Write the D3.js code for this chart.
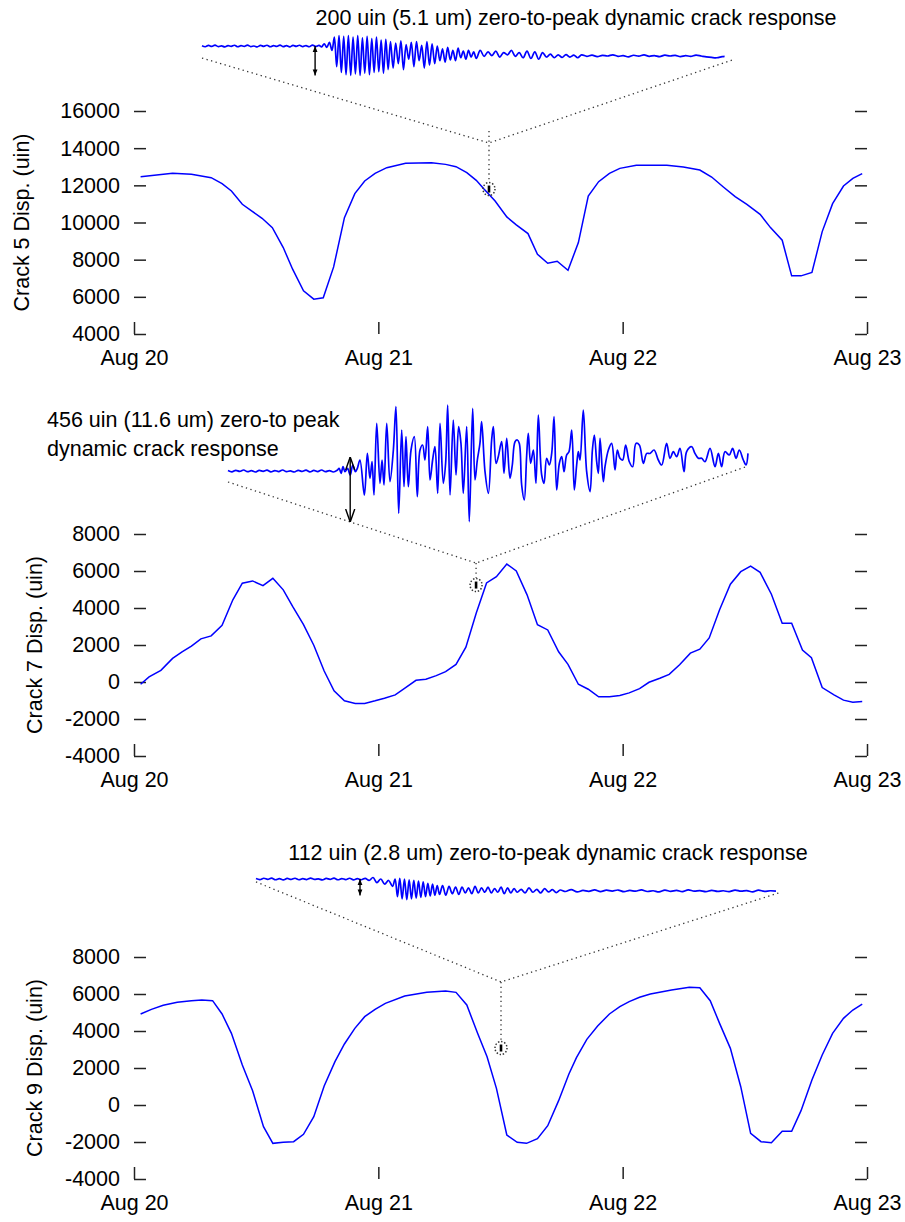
<!DOCTYPE html>
<html>
<head>
<meta charset="utf-8">
<title>Crack displacement</title>
<style>
  body { margin: 0; background: #fff; }
  svg text { font-family: "Liberation Sans", Arial, sans-serif; font-size: 21.5px; fill: #000; }
</style>
</head>
<body>
<svg width="905" height="1222"></svg>
<script src="https://d3js.org/d3.v7.min.js"></script>
<script>

// ---- data ----
const dayHours = [0, 24, 48, 72]
const dayLabels = ["Aug 20", "Aug 21", "Aug 22", "Aug 23"]
const ticksCrack5 = [4000, 6000, 8000, 10000, 12000, 14000, 16000]
const ticksCrack79 = [-4000, -2000, 0, 2000, 4000, 6000, 8000]

// hours after Aug 20 00:00, displacement in uin
const crack5Hours = [0.65,3.79,5.64,7.58,8.65,9.57,10.64,11.65,12.58,13.59,14.66,15.58,16.65,17.66,18.59,19.61,20.67,21.69,22.66,23.68,24.83,26.68,29.22,30.61,31.63,32.69,33.62,34.4,35.47,36.62,37.55,38.7,39.63,40.64,41.57,42.63,43.65,44.62,45.64,46.7,47.72,49.34,52.34,53.96,55.58,56.74,57.89,59.05,60.2,61.5,62.52,63.67,64.6,65.52,66.59,67.6,68.62,69.69,70.61,71.53]
const crack5Disp = [12466,12645,12591,12412,12090,11696,10979,10585,10227,9725,8651,7487,6322,5875,5946,7612,10263,11552,12233,12645,12949,13182,13218,13128,13003,12681,12269,11785,11158,10299,9869,9403,8293,7809,7917,7433,8919,11427,12197,12645,12913,13075,13075,12985,12824,12448,11910,11391,10979,10442,9725,9045,7128,7128,7308,9510,11015,11964,12376,12627]

const crack7Hours = [0.65,1.48,2.64,3.79,4.72,5.64,6.57,7.58,8.65,9.71,10.64,11.65,12.67,13.64,14.66,15.58,16.65,17.66,18.68,19.65,20.67,21.73,22.66,23.68,24.6,25.66,26.68,27.7,28.67,29.69,30.61,31.63,32.6,33.62,34.63,35.6,36.62,37.55,38.61,39.63,40.64,41.71,42.63,43.65,44.62,45.64,46.7,47.72,48.64,49.66,50.59,51.65,52.57,53.59,54.65,55.58,56.5,57.52,58.58,59.6,60.57,61.5,62.61,63.67,64.6,65.66,66.54,67.6,68.76,69.69,70.61,71.53]
const crack7Disp = [-122,272,630,1274,1632,1937,2330,2492,3064,4443,5338,5463,5212,5606,4980,4085,3100,1990,594,-480,-1017,-1160,-1160,-1017,-874,-695,-301,93,147,344,558,952,1883,3727,5356,5696,6376,6000,4711,3100,2814,1632,952,-122,-391,-803,-803,-731,-588,-355,-14,200,415,934,1560,1776,2384,3906,5284,5964,6269,5928,4747,3172,3172,1722,1310,-301,-695,-981,-1088,-1053]

const crack9Hours = [0.65,1.71,2.87,4.25,5.64,6.66,7.72,8.65,9.57,10.64,11.65,12.72,13.64,14.66,15.68,16.65,17.66,18.68,19.74,20.67,21.69,22.66,23.68,24.69,26.59,28.76,30.61,31.63,32.69,33.75,34.68,35.6,36.62,37.64,38.56,39.63,40.64,41.71,42.72,43.46,44.48,45.54,46.7,47.72,48.64,49.66,50.72,52.8,54.55,55.58,56.6,57.52,58.58,59.6,60.57,61.59,62.61,63.67,64.6,65.52,66.59,67.6,68.62,69.69,70.61,71.53]
const crack9Disp = [4919,5171,5387,5550,5640,5676,5640,4919,3874,2162,774,-1172,-2073,-2019,-1983,-1586,-631,1026,2342,3297,4144,4775,5171,5495,5892,6090,6162,6090,5405,3874,2612,900,-1622,-2019,-2073,-1821,-1118,234,1675,2558,3549,4270,4919,5315,5586,5820,6000,6216,6360,6342,5640,4414,3063,990,-1532,-1983,-2037,-1424,-1424,-307,1351,2702,3874,4685,5135,5459]

// dynamic records shown in the insets: [seconds, uin relative to pre-event level]
const crack5Wave = [[0,2],[0.25,-5],[0.5,4],[0.75,-3],[1,6],[1.25,-4],[1.5,1],[1.75,-6],[2,3],[2.25,-2],[2.5,5],[2.75,-5],[3,2],[3.25,-3],[3.5,6],[3.75,-4],[4,0],[4.25,-6],[4.5,4],[4.75,-2],[5,5],[5.25,-5],[5.5,3],[5.75,-3],[6,6],[6.25,-4],[6.5,2],[6.75,-6],[7,4],[7.25,-2],[7.5,5],[7.75,-4],[8,3],[8.25,-5],[8.5,6],[8.75,-3],[9,4],[9.2,-6],
  [9.4,15],[9.6,-10],[9.8,25],[10,-30],
  [10.18,60],[10.36,-140],[10.54,70],[10.72,-180],[10.9,65],[11.08,-195],[11.26,70],[11.44,-200],[11.62,60],[11.8,-190],[11.98,70],[12.16,-200],[12.34,55],[12.52,-185],[12.7,65],[12.88,-195],[13.06,50],[13.24,-180],[13.42,60],[13.6,-175],[13.78,40],[13.96,-185],[14.14,45],[14.32,-160],[14.5,30],
  [14.7,-150],[14.9,20],[15.1,-120],[15.3,35],[15.5,-160],[15.7,10],[15.9,-90],[16.1,25],[16.3,-140],[16.5,30],[16.7,-100],[16.9,5],[17.1,-150],[17.3,30],[17.5,-130],[17.7,15],[17.9,-120],[18.1,0],[18.3,-100],
  [18.5,-20],[18.7,-110],[18.9,-10],[19.1,-95],[19.3,-30],[19.5,-100],[19.7,-15],[19.9,-80],[20.1,-35],[20.3,-90],[20.5,-30],[20.7,-75],[20.9,-40],[21.1,-85],
  [21.4,-30],[21.7,-70],[22,-40],[22.3,-65],[22.6,-35],[22.9,-75],[23.2,-45],[23.5,-60],[23.8,-30],[24.1,-70],[24.4,-45],[24.7,-80],[25,-35],[25.3,-85],[25.6,-40],[25.9,-90],[26.2,-45],[26.5,-75],
  [26.8,-55],[27.1,-80],[27.4,-60],[27.7,-78],[28,-58],[28.3,-75],[28.6,-62],[28.9,-80],[29.2,-60],
  [29.6,-70],[30,-62],[30.4,-72],[30.8,-64],[31.2,-68],[31.6,-60],[32,-70],[32.4,-66],[32.8,-74],[33.2,-63],[33.6,-69],[34,-61],[34.4,-70],[34.8,-65],[35.2,-72],[35.6,-62],[36,-68],[36.4,-64],[36.8,-72],[37.2,-66],[37.6,-70],[38,-62],[38.4,-68],[38.8,-74],[39.2,-78],[39.6,-80],[40,-72],[40.2,-70]]

const crack7Wave = [[0,3],[0.3,-6],[0.6,5],[0.9,-3],[1.2,7],[1.5,-5],[1.8,2],[2.1,-7],[2.4,4],[2.7,-2],[3,6],[3.3,-6],[3.6,3],[3.9,-4],[4.2,7],[4.5,-5],[4.8,1],[5.1,-7],[5.4,5],[5.7,-3],[6,6],[6.3,-6],[6.6,4],[6.9,-4],[7.2,7],[7.5,-5],[7.8,3],[8.1,-7],[8.4,5],
  [8.55,19],[8.7,-16],[8.85,30],[9,-5],[9.2,19],[9.4,-28],[9.6,42],[9.8,-5],[9.95,19],
  [10.15,77],[10.49,-168],[10.72,124],[10.92,-51],[11.08,65],[11.23,-168],[11.44,333],[11.69,-86],[11.85,77],[12,-98],[12.21,333],[12.46,-75],[12.72,147],[12.92,450],[13.13,-296],[13.36,287],[13.54,-110],[13.69,240],[13.87,-110],[14.08,147],[14.33,240],[14.56,-179],[14.77,147],[14.97,182],[15.15,77],[15.36,310],[15.54,-63],[15.74,77],[15.92,170],[16.13,-156],[16.31,333],[16.56,-86],[16.74,54],[16.9,461],[17.08,-168],[17.33,356],[17.54,-28],[17.74,310],[17.92,193],[18.1,-156],[18.36,310],[18.56,-354],[18.82,438],[19,-63],[19.18,77],[19.38,193],[19.51,345],[19.77,-5],[20.03,-156],[20.28,217],[20.41,310],[20.62,54],[20.79,100],[21.05,205],[21.23,-16],[21.44,228],[21.69,-51],[21.87,42],[22.08,205],[22.26,217],[22.41,193],[22.59,-98],[22.79,-203],[22.97,100],[23.1,263],[23.28,54],[23.49,147],[23.69,-86],[23.87,391],[24.13,-28],[24.31,-86],[24.51,89],[24.72,42],[24.9,123],[25.08,380],[25.28,-133],[25.49,54],[25.67,100],[25.85,-5],[26.05,112],[26.23,135],[26.44,287],[26.64,-133],[26.82,42],[26.95,135],[27.08,77],[27.33,426],[27.59,-5],[27.85,-144],[28.03,147],[28.18,252],[28.36,65],[28.49,-16],[28.62,228],[28.87,-75],[29,30],[29.26,147],[29.51,193],[29.77,7],[29.95,147],[30.15,89],[30.36,77],[30.59,182],[30.87,65],[31.13,30],[31.38,193],[31.64,182],[31.95,54],[32.21,123],[32.46,123],[32.77,147],[33.1,77],[33.36,42],[33.74,193],[34,89],[34.26,135],[34.51,100],[34.77,158],[35.08,-5],[35.28,135],[35.67,170],[35.92,123],[36.18,89],[36.44,89],[36.69,65],[37.08,158],[37.46,30],[37.72,123],[37.97,30],[38.23,135],[38.56,112],[38.82,158],[39.08,89],[39.33,147],[39.64,77],[39.85,42],[40,123]]

const crack9Wave = [[0,3],[0.3,-4],[0.6,5],[0.9,-2],[1.2,6],[1.5,-5],[1.8,2],[2.1,-6],[2.4,4],[2.7,-3],[3,5],[3.3,-5],[3.6,2],[3.9,-4],[4.2,6],[4.5,-3],[4.8,1],[5.1,-6],[5.4,4],[5.7,-2],[6,6],[6.3,-5],[6.6,3],[6.9,-4],[7.2,5],[7.5,-6],[7.8,2],[8.1,-5],[8.4,4],
  [8.7,-10],[9,10],[9.3,-25],[9.6,0],[9.9,-35],[10.2,-10],[10.5,-50],
  [10.7,0],[10.88,-120],[11.06,5],[11.24,-135],[11.42,0],[11.6,-140],[11.78,-5],[11.96,-135],[12.14,-10],[12.32,-130],[12.5,-15],[12.68,-125],[12.86,-20],[13.04,-120],[13.22,-30],[13.4,-115],[13.58,-35],[13.76,-110],[13.94,-45],[14.12,-105],
  [14.35,-45],[14.6,-110],[14.85,-50],[15.1,-100],[15.35,-55],[15.6,-105],[15.85,-55],[16.1,-95],[16.35,-60],[16.6,-100],[16.85,-50],[17.1,-95],[17.35,-60],[17.6,-90],[17.85,-55],[18.1,-95],[18.35,-65],[18.6,-90],[18.85,-55],[19.1,-100],[19.35,-60],[19.6,-95],[19.85,-65],[20.1,-90],[20.4,-70],[20.7,-95],[21,-60],[21.3,-90],[21.6,-70],[21.9,-95],[22.2,-65],[22.5,-88],[22.8,-72],[23.1,-92],[23.4,-75],
  [23.8,-85],[24.25,-72],[24.7,-88],[25.15,-78],[25.6,-84],[26.05,-74],[26.5,-86],[26.95,-76],[27.4,-82],[27.85,-75],[28.3,-86],[28.75,-78],[29.2,-83],[29.65,-74],[30.1,-85],[30.55,-80],[31,-88],[31.45,-76],[31.9,-84],[32.35,-78],[32.8,-86],[33.25,-74],[33.7,-82],[34.15,-79],[34.6,-86],[35.05,-77],[35.5,-84],[35.95,-80],[36.4,-86],[36.85,-75],[37.3,-83],[37.75,-79],[38.2,-88],[38.65,-76],[39.1,-84],[39.55,-80],[40,-82]]

// ---- layout of the three panels ----
const panels = [
  { top: 111, bottom: 334, domain: [4000, 16000], ticks: ticksCrack5, label: "Crack 5 Disp. (uin)", labelX: 21,
    hours: crack5Hours, disp: crack5Disp, markH: 34.87, markV: 11800, apexV: 14280, stemV: 14920,
    inset: { x0: 202, base: 46, k: 6.8, wave: crack5Wave, left: [0, -82], right: [40.8, -95], arrow: [8.7, 0, -200], head: "small" },
    title: ["200 uin (5.1 um) zero-to-peak dynamic crack response"], titleX: 576, titleY: 25, anchor: "middle" },
  { top: 534, bottom: 756, domain: [-4000, 8000], ticks: ticksCrack79, label: "Crack 7 Disp. (uin)", labelX: 34,
    hours: crack7Hours, disp: crack7Disp, markH: 33.6, markV: 5240, apexV: 6430, stemV: 6430,
    inset: { x0: 228, base: 471, k: 7, wave: crack7Wave, left: [0, -77], right: [40, 35], arrow: [9.4, 98, -357], head: "open" },
    title: ["456 uin (11.6 um) zero-to peak", "dynamic crack response"], titleX: 47, titleY: 427, anchor: "start" },
  { top: 957, bottom: 1179, domain: [-4000, 8000], ticks: ticksCrack79, label: "Crack 9 Disp. (uin)", labelX: 34,
    hours: crack9Hours, disp: crack9Disp, markH: 36.05, markV: 3080, apexV: 6650, stemV: 6650,
    inset: { x0: 256, base: 879, k: 6.8, wave: crack9Wave, left: [0, -20], right: [40.2, -95], arrow: [8.0, 0, -112], head: "small" },
    title: ["112 uin (2.8 um) zero-to-peak dynamic crack response"], titleX: 548, titleY: 860, anchor: "middle" }
]

const svg = d3.select("svg")
const x = d3.scaleLinear().domain([0, 72]).range([134, 867])

const defs = svg.append("defs")
defs.append("marker").attr("id", "small")
    .attr("viewBox", "0 -5 10 10").attr("refX", 10).attr("refY", 0)
    .attr("markerUnits", "userSpaceOnUse").attr("markerWidth", 6).attr("markerHeight", 6)
    .attr("orient", "auto-start-reverse")
  .append("path").attr("d", "M0,-4L10,0L0,4Z").attr("fill", "#000")
defs.append("marker").attr("id", "open")
    .attr("viewBox", "0 -5 10 10").attr("refX", 10).attr("refY", 0)
    .attr("markerUnits", "userSpaceOnUse").attr("markerWidth", 13).attr("markerHeight", 13)
    .attr("orient", "auto-start-reverse")
  .append("path").attr("d", "M0,-3.5L10,0L0,3.5").attr("fill", "none").attr("stroke", "#000").attr("stroke-width", 1.1)

panels.forEach(function(p) {
  const y = d3.scaleLinear().domain(p.domain).range([p.bottom, p.top])
  const g = svg.append("g")

  // left ticks with labels, right ticks, bottom date ticks (no axis lines)
  g.append("g")
      .attr("transform", "translate(" + x(0) + ",0)")
      .call(d3.axisLeft(y).tickValues(p.ticks).tickSize(-12).tickPadding(14).tickFormat(d => String(d)))
      .call(a => a.select(".domain").remove())
  g.append("g")
      .attr("transform", "translate(" + x(72) + ",0)")
      .call(d3.axisRight(y).tickValues(p.ticks).tickSize(-12).tickFormat(""))
      .call(a => a.select(".domain").remove())
  g.append("g")
      .attr("transform", "translate(0," + p.bottom + ")")
      .call(d3.axisBottom(x).tickValues(dayHours).tickSize(-12).tickPadding(16).tickFormat((d, i) => dayLabels[i]))
      .call(a => a.select(".domain").remove())
  g.selectAll(".tick line").attr("stroke", "#222").attr("stroke-width", 1.5)

  // y label
  g.append("text")
      .attr("transform", "translate(" + p.labelX + "," + (p.top + p.bottom) / 2 + ") rotate(-90)")
      .attr("text-anchor", "middle")
      .attr("dy", "0.35em")
      .text(p.label)

  // hourly record
  const line = d3.line().x(d => x(d[0])).y(d => y(d[1]))
  g.append("path")
      .datum(d3.zip(p.hours, p.disp))
      .attr("d", line)
      .attr("fill", "none")
      .attr("stroke", "#0000ff")
      .attr("stroke-width", 1.5)

  // inset with the dynamic record
  const ins = p.inset
  const ix = d3.scaleLinear().domain([0, 40]).range([ins.x0, ins.x0 + 520])
  const iy = d3.scaleLinear().domain([-300, 300]).range([ins.base + 300 / ins.k, ins.base - 300 / ins.k])

  const mx = x(p.markH), my = y(p.markV)
  const ax = mx, ay = y(p.apexV)

  // dotted leader lines
  const dotted = g.append("g")
      .attr("fill", "none").attr("stroke", "#333")
      .attr("stroke-width", 1.3).attr("stroke-dasharray", "1.3,3.4")
  dotted.append("path")
      .attr("d", "M" + ix(ins.left[0]) + "," + iy(ins.left[1]) + "L" + ax + "," + ay + "L" + ix(ins.right[0]) + "," + iy(ins.right[1]))
  dotted.append("path")
      .attr("d", "M" + mx + "," + y(p.stemV) + "L" + mx + "," + (my - 7))
  dotted.append("ellipse")
      .attr("cx", mx).attr("cy", my).attr("rx", 6).attr("ry", 6.5)
      .attr("stroke-width", 1.5).attr("stroke-dasharray", "1.4,1.8")
  g.append("line")
      .attr("x1", mx).attr("x2", mx).attr("y1", my - 3.5).attr("y2", my + 3.5)
      .attr("stroke", "#000").attr("stroke-width", 2.6)

  g.append("path")
      .datum(ins.wave)
      .attr("d", d3.line().curve(d3.curveCatmullRom.alpha(0.5)).x(d => ix(d[0])).y(d => iy(d[1])))
      .attr("fill", "none")
      .attr("stroke", "#0000ff")
      .attr("stroke-width", 1.7)

  g.append("line")
      .attr("x1", ix(ins.arrow[0])).attr("x2", ix(ins.arrow[0]))
      .attr("y1", iy(ins.arrow[1])).attr("y2", iy(ins.arrow[2]))
      .attr("stroke", "#000").attr("stroke-width", 1.4)
      .attr("marker-start", "url(#" + ins.head + ")")
      .attr("marker-end", "url(#" + ins.head + ")")

  // annotation text
  g.append("text")
      .attr("x", p.titleX).attr("y", p.titleY)
      .attr("text-anchor", p.anchor)
    .selectAll("tspan")
    .data(p.title)
    .enter().append("tspan")
      .attr("x", p.titleX)
      .attr("dy", (d, i) => i ? 29 : 0)
      .text(d => d)
})
</script>
</body>
</html>
